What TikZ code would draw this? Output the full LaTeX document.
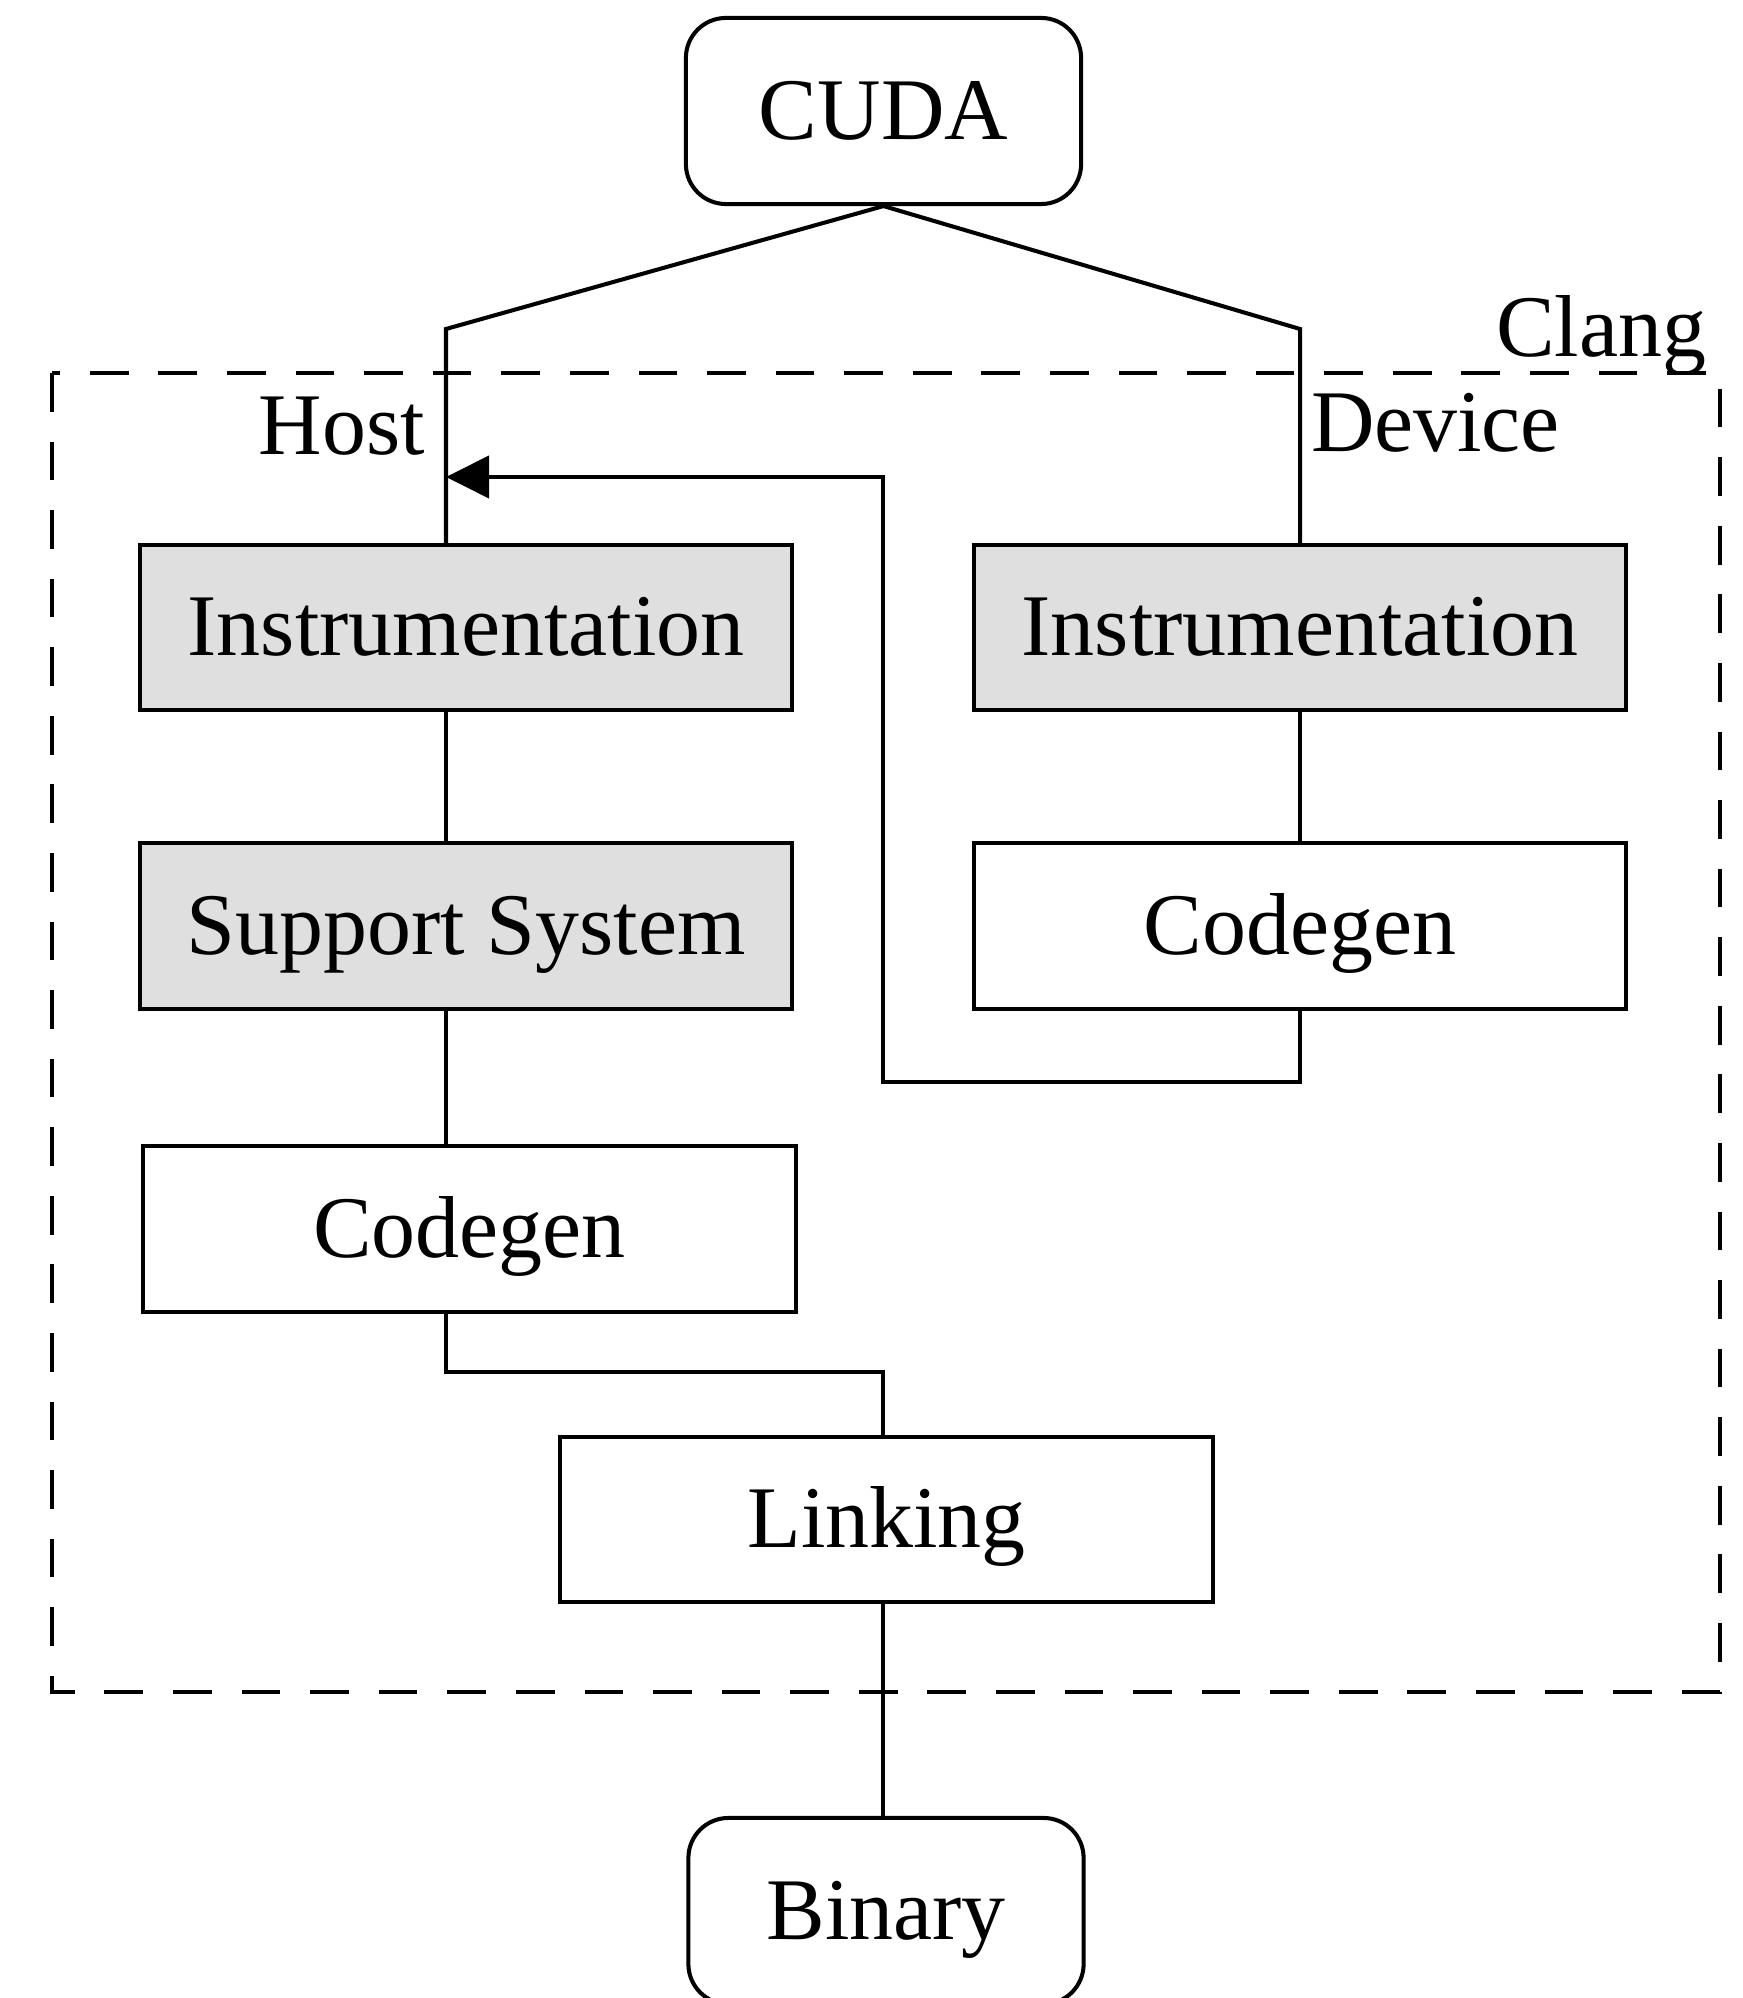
\documentclass[tikz,border=0pt]{standalone}
\usepackage{fontspec}
\setmainfont{Liberation Serif}
\usetikzlibrary{arrows.meta}

\begin{document}
\begin{tikzpicture}[x=0.01cm,y=-0.01cm,line width=1.15pt,
	every node/.style={font=\fontsize{25}{29}\selectfont,inner sep=0pt},
	stage/.style={draw,minimum width=6.52cm,minimum height=1.65cm,text height=16pt,text depth=0pt},
	ours/.style={stage,fill=gray!25},
	term/.style={draw,rounded corners=0.4cm,minimum width=3.95cm,minimum height=1.86cm,text height=16pt,text depth=0pt}]
\useasboundingbox (0,0) rectangle (1742,1998);
\draw[dash pattern=on 11pt off 8.5pt] (52,373) rectangle (1720,1692);
\node[term] (cuda) at (883.5,111) {CUDA};
\node[ours] (hinst) at (466,627.5) {Instrumentation};
\node[ours] (dinst) at (1300,627.5) {Instrumentation};
\node[ours] (supp) at (466,926) {Support System};
\node[stage] (dcg) at (1300,926) {Codegen};
\node[stage] (hcg) at (469.5,1229) {Codegen};
\node[stage] (link) at (886.5,1519.5) {Linking};
\node[term] (bin) at (886,1911) {Binary};
\node[anchor=base east] (host) at (427,455) {Host};
\node[anchor=base west] (dev) at (1309,452) {Device};
\node[anchor=base east] (clang) at (1708,357) {Clang};
\coordinate (hbend) at (446,329);
\coordinate (dbend) at (1300,329);
\coordinate (loop) at (883,1082);
\coordinate (ret) at (883,477);
\coordinate (join) at (883,1372);
\draw (cuda.south) -- (hbend) -- (hbend |- hinst.north);
\draw (cuda.south) -- (dbend) -- (dinst.north);
\draw (hinst.south -| hbend) -- (supp.north -| hbend);
\draw (supp.south -| hbend) -- (hcg.north -| hbend);
\draw (dinst) -- (dcg);
\draw[-{Triangle[length=0.43cm,width=0.42cm]}] (dcg.south) |- (loop) -- (ret) -- (ret -| hbend);
\draw (hcg.south -| hbend) |- (join) -- (join |- link.north);
\draw (link.south -| join) -- (bin.north -| join);
\end{tikzpicture}
\end{document}
